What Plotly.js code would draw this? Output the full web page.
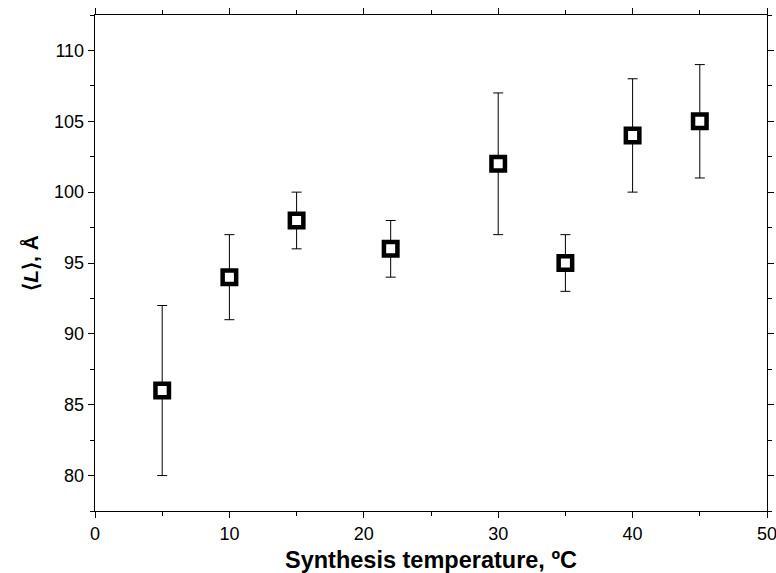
<!DOCTYPE html>
<html>
<head>
<meta charset="utf-8">
<script src="https://cdn.plot.ly/plotly-3.0.1.min.js"></script>
<style>html,body{margin:0;padding:0;background:#fff;}#chart{width:776px;height:573px;}</style>
</head>
<body>
<div id="chart"></div>
<script>
const temperature = [5, 10, 15, 22, 30, 35, 40, 45];
const meanL = [86, 94, 98, 96, 102, 95, 104, 105];
const errUpper = [6, 3, 2, 2, 5, 2, 4, 4];
const errLower = [6, 3, 2, 2, 5, 2, 4, 4];
const xTickVals = [0, 10, 20, 30, 40, 50];
const yTickVals = [80, 85, 90, 95, 100, 105, 110];

const trace = {
  x: temperature,
  y: meanL,
  type: 'scatter',
  mode: 'markers',
  marker: {symbol: 'square', size: 13.5, color: '#ffffff', line: {color: '#000000', width: 4.5}},
  error_y: {type: 'data', symmetric: false, array: errUpper, arrayminus: errLower,
            color: '#000000', thickness: 1, width: 5},
  showlegend: false
};

const fam = '"Liberation Sans", Arial, sans-serif';
const layout = {
  width: 776, height: 573,
  margin: {l: 94.5, r: 9.3, t: 15.3, b: 62},
  paper_bgcolor: '#fff', plot_bgcolor: '#fff',
  font: {family: fam, color: '#000'},
  xaxis: {
    range: [0, 50], tickvals: xTickVals, ticktext: xTickVals.map(String),
    ticks: 'outside', ticklen: 6, tickwidth: 1, tickcolor: '#000',
    minor: {dtick: 5, tick0: 0, ticks: 'outside', ticklen: 4, tickcolor: '#000'},
    showline: true, linecolor: '#000', linewidth: 1.3, mirror: 'ticks',
    showgrid: false, zeroline: false, automargin: false,
    ticklabeloverflow: 'allow',
    tickfont: {size: 18, family: fam, color: '#000'},
    title: {text: '<b>Synthesis temperature, ºC</b>', font: {size: 23.5, family: fam, color: '#000'}, standoff: 8}
  },
  yaxis: {
    range: [77.5, 112.5], tickvals: yTickVals, ticktext: yTickVals.map(String),
    ticks: 'outside', ticklen: 6, tickwidth: 1, tickcolor: '#000',
    minor: {dtick: 2.5, tick0: 0, ticks: 'outside', ticklen: 4, tickcolor: '#000'},
    showline: true, linecolor: '#000', linewidth: 1.3, mirror: 'ticks',
    showgrid: false, zeroline: false, automargin: false,
    ticklabeloverflow: 'allow',
    tickfont: {size: 18, family: fam, color: '#000'},
    title: {text: '<b>⟨<i>L</i>⟩, Å</b>', font: {size: 21, family: fam, color: '#000'}, standoff: 9}
  }
};

Plotly.newPlot('chart', [trace], layout, {staticPlot: true, displayModeBar: false});
</script>
</body>
</html>
